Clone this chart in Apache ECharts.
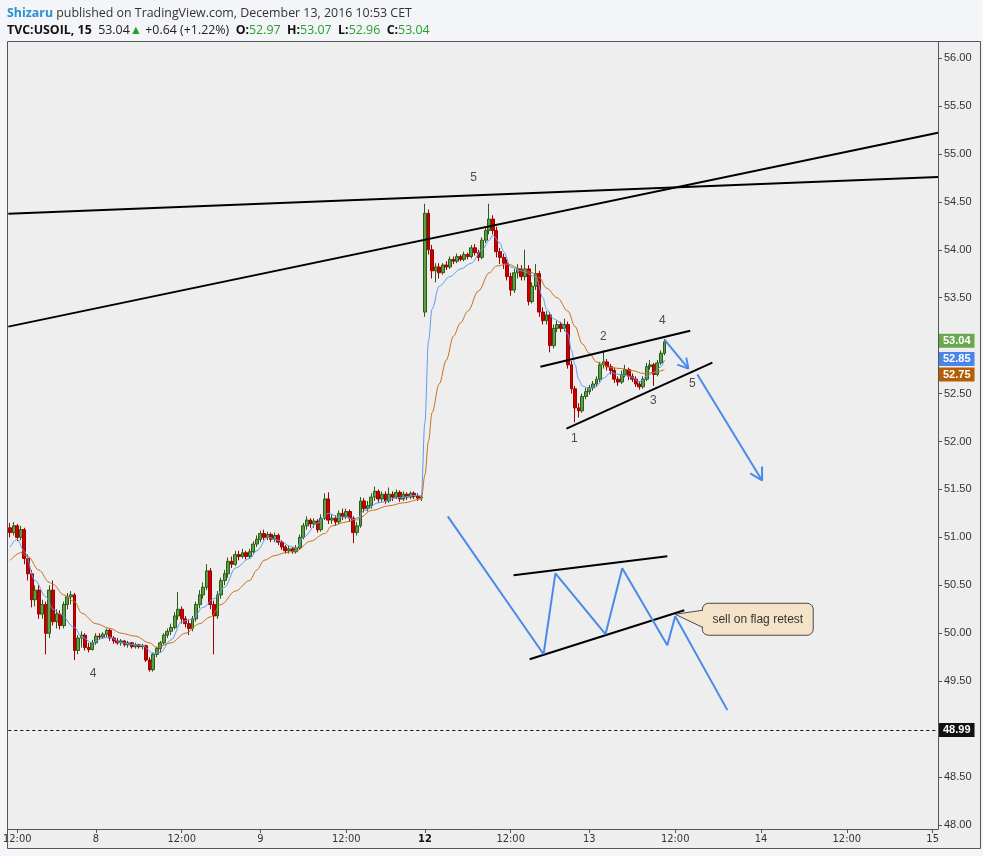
<!DOCTYPE html>
<html>
<head>
<meta charset="utf-8">
<title>TVC:USOIL, 15</title>
<script src="https://cdn.jsdelivr.net/npm/echarts@6/dist/echarts.min.js"></script>
<style>
  html, body { margin: 0; padding: 0; background: #f3f5f8; }
  #kinfo { width: 983px; height: 856px; }
</style>
</head>
<body>
<div id="kinfo"></div>
<script>
// 30 min candles: [open, close, low, high]
const dec7 = [
  [51.10, 51.05, 51.00, 51.15], [51.05, 51.12, 51.02, 51.16], [51.12, 51.00, 50.96, 51.14], [51.00, 51.08, 50.97, 51.12],
  [51.08, 50.78, 50.72, 51.10], [50.78, 50.62, 50.55, 50.82], [50.62, 50.35, 50.27, 50.66], [50.35, 50.45, 50.28, 50.50],
  [50.45, 50.20, 50.15, 50.50], [50.20, 50.30, 50.15, 50.35], [50.30, 50.00, 49.78, 50.33], [50.00, 50.45, 49.95, 50.50],
  [50.45, 50.12, 50.08, 50.55], [50.12, 50.20, 50.05, 50.25], [50.20, 50.08, 50.04, 50.24], [50.08, 50.30, 50.05, 50.33],
  [50.30, 50.38, 50.25, 50.42], [50.38, 50.40, 50.30, 50.44], [50.40, 49.82, 49.72, 50.42], [49.82, 49.95, 49.78, 49.98],
  [49.95, 49.98, 49.85, 50.02], [49.98, 49.85, 49.82, 50.00], [49.85, 49.83, 49.80, 49.90], [49.83, 49.90, 49.82, 49.93]
];
const dec8 = [
  [49.90, 49.97, 49.88, 50.00], [49.97, 49.96, 49.93, 50.00], [49.96, 49.99, 49.94, 50.01], [49.99, 50.03, 49.96, 50.05],
  [50.03, 49.95, 49.92, 50.05], [49.95, 49.92, 49.89, 49.97], [49.92, 49.90, 49.88, 49.95], [49.90, 49.92, 49.87, 49.94],
  [49.92, 49.88, 49.86, 49.93], [49.88, 49.90, 49.85, 49.92], [49.90, 49.86, 49.84, 49.91], [49.86, 49.88, 49.84, 49.90],
  [49.88, 49.86, 49.84, 49.89], [49.86, 49.87, 49.83, 49.89], [49.87, 49.72, 49.70, 49.88], [49.72, 49.62, 49.60, 49.75],
  [49.62, 49.78, 49.60, 49.80], [49.78, 49.84, 49.75, 49.86], [49.84, 49.90, 49.80, 49.92], [49.90, 49.98, 49.88, 50.00],
  [49.98, 50.02, 49.95, 50.05], [50.02, 50.06, 49.98, 50.10], [50.06, 50.18, 50.04, 50.22], [50.18, 50.25, 50.14, 50.43],
  [50.25, 50.15, 50.10, 50.28], [50.15, 50.10, 50.06, 50.18], [50.10, 50.05, 49.98, 50.14], [50.05, 50.15, 50.02, 50.18],
  [50.15, 50.30, 50.12, 50.33], [50.30, 50.40, 50.26, 50.45], [50.40, 50.48, 50.36, 50.53], [50.48, 50.65, 50.45, 50.72],
  [50.65, 50.30, 50.25, 50.68], [50.30, 50.18, 49.78, 50.34], [50.18, 50.40, 50.15, 50.44], [50.40, 50.55, 50.36, 50.58],
  [50.55, 50.62, 50.50, 50.66], [50.62, 50.75, 50.58, 50.79], [50.75, 50.72, 50.68, 50.80], [50.72, 50.82, 50.70, 50.86],
  [50.82, 50.80, 50.76, 50.86], [50.80, 50.84, 50.78, 50.88], [50.84, 50.80, 50.77, 50.86], [50.80, 50.85, 50.78, 50.88],
  [50.85, 50.93, 50.83, 50.96], [50.93, 50.98, 50.90, 51.02]
];
const dec9 = [
  [50.98, 51.04, 50.95, 51.07], [51.04, 51.00, 50.97, 51.08], [51.00, 51.03, 50.97, 51.06], [51.03, 50.98, 50.95, 51.05],
  [50.98, 51.02, 50.95, 51.05], [51.02, 50.95, 50.92, 51.04], [50.95, 50.90, 50.87, 50.97], [50.90, 50.86, 50.83, 50.92],
  [50.86, 50.88, 50.83, 50.91], [50.88, 50.85, 50.83, 50.90], [50.85, 50.89, 50.83, 50.92], [50.89, 51.00, 50.87, 51.03],
  [51.00, 51.12, 50.98, 51.15], [51.12, 51.18, 51.08, 51.22], [51.18, 51.14, 51.10, 51.20], [51.14, 51.17, 51.10, 51.20],
  [51.17, 51.08, 51.05, 51.19], [51.08, 51.20, 51.06, 51.24], [51.20, 51.40, 51.18, 51.46], [51.40, 51.18, 51.14, 51.47],
  [51.18, 51.20, 51.14, 51.24], [51.20, 51.16, 51.12, 51.23], [51.16, 51.25, 51.14, 51.28], [51.25, 51.22, 51.18, 51.30],
  [51.22, 51.27, 51.19, 51.30], [51.27, 51.20, 51.16, 51.29], [51.20, 51.05, 50.94, 51.22], [51.05, 51.12, 51.02, 51.16],
  [51.12, 51.38, 51.10, 51.42], [51.38, 51.30, 51.26, 51.41], [51.30, 51.33, 51.27, 51.38], [51.33, 51.42, 51.30, 51.46],
  [51.42, 51.48, 51.38, 51.53], [51.48, 51.40, 51.36, 51.50], [51.40, 51.45, 51.37, 51.48], [51.45, 51.38, 51.35, 51.48],
  [51.38, 51.45, 51.36, 51.52], [51.45, 51.42, 51.38, 51.48], [51.42, 51.47, 51.40, 51.50], [51.47, 51.40, 51.37, 51.49],
  [51.40, 51.45, 51.38, 51.48], [51.45, 51.42, 51.39, 51.47], [51.42, 51.46, 51.40, 51.48], [51.46, 51.43, 51.40, 51.48],
  [51.43, 51.41, 51.38, 51.46], [51.41, 51.42, 51.38, 51.45]
];
const dec12 = [
  [53.35, 54.38, 53.30, 54.48], [54.38, 54.00, 53.95, 54.42], [54.00, 53.78, 53.70, 54.05], [53.78, 53.82, 53.66, 53.86],
  [53.82, 53.76, 53.70, 53.86], [53.76, 53.84, 53.74, 53.86], [53.84, 53.82, 53.79, 53.88], [53.82, 53.90, 53.80, 53.93],
  [53.90, 53.88, 53.85, 53.93], [53.88, 53.93, 53.86, 53.96], [53.93, 53.90, 53.88, 53.95], [53.90, 53.95, 53.88, 53.98],
  [53.95, 53.93, 53.90, 53.97], [53.93, 54.02, 53.91, 54.05], [54.02, 53.97, 53.94, 54.06], [53.97, 53.92, 53.88, 54.00],
  [53.92, 54.10, 53.90, 54.13], [54.10, 54.20, 54.07, 54.24], [54.20, 54.32, 54.16, 54.48], [54.32, 54.20, 54.16, 54.36],
  [54.20, 53.98, 53.92, 54.24], [53.98, 53.92, 53.85, 54.02], [53.92, 53.86, 53.80, 53.96], [53.86, 53.72, 53.68, 53.90],
  [53.72, 53.58, 53.52, 53.76], [53.58, 53.76, 53.55, 53.80], [53.76, 53.80, 53.70, 53.85], [53.80, 53.72, 53.68, 53.84],
  [53.72, 53.80, 53.68, 54.00], [53.80, 53.46, 53.42, 53.84], [53.46, 53.62, 53.44, 53.66], [53.62, 53.75, 53.58, 53.85],
  [53.75, 53.35, 53.30, 53.78], [53.35, 53.26, 53.22, 53.40], [53.26, 53.32, 53.22, 53.36], [53.32, 53.00, 52.93, 53.35],
  [53.00, 53.18, 52.97, 53.22], [53.18, 53.22, 53.14, 53.26], [53.22, 53.18, 53.14, 53.25], [53.18, 53.22, 53.15, 53.28],
  [53.22, 52.80, 52.76, 53.25], [52.80, 52.55, 52.50, 52.84], [52.55, 52.35, 52.20, 52.58], [52.35, 52.32, 52.25, 52.40],
  [52.32, 52.47, 52.30, 52.50], [52.47, 52.52, 52.44, 52.56]
];
const dec13 = [
  [52.52, 52.56, 52.49, 52.59], [52.56, 52.60, 52.53, 52.63], [52.60, 52.65, 52.57, 52.68], [52.65, 52.80, 52.62, 52.83],
  [52.80, 52.83, 52.76, 52.95], [52.83, 52.78, 52.74, 52.86], [52.78, 52.74, 52.70, 52.81], [52.74, 52.65, 52.61, 52.77],
  [52.65, 52.62, 52.58, 52.68], [52.62, 52.70, 52.60, 52.74], [52.70, 52.75, 52.67, 52.80], [52.75, 52.68, 52.64, 52.77],
  [52.68, 52.65, 52.62, 52.71], [52.65, 52.60, 52.57, 52.68], [52.60, 52.57, 52.54, 52.63], [52.57, 52.65, 52.55, 52.68],
  [52.65, 52.78, 52.63, 52.82], [52.78, 52.80, 52.75, 52.85], [52.80, 52.70, 52.58, 52.82], [52.70, 52.82, 52.68, 52.85],
  [52.82, 52.92, 52.80, 52.95], [52.92, 53.04, 52.90, 53.07]
];

// moving averages: [bar index, value]
const blueMA = [
  [0, 50.90], [2, 50.98], [4, 50.85], [7, 50.55], [10, 50.38], [12, 50.25], [14, 50.20], [18, 50.06], [20, 49.96],
  [23, 49.90], [26, 49.95], [28, 49.96], [31, 49.90], [35, 49.88], [37, 49.87], [40, 49.79], [42, 49.80], [45, 49.93],
  [48, 50.12], [51, 50.15], [54, 50.27], [57, 50.36], [60, 50.48], [63, 50.68], [67, 50.78], [69, 50.86], [72, 51.00],
  [75, 50.97], [79, 50.90], [80, 50.885], [82, 51.00], [86, 51.15], [89, 51.25], [92, 51.21], [94, 51.21], [97, 51.18],
  [99, 51.28], [103, 51.36], [108, 51.41], [114, 51.44], [115, 51.43], [116, 52.20], [117, 53.05], [118, 53.38],
  [120, 53.62], [123, 53.72], [126, 53.80], [129, 53.86], [132, 54.00], [134, 54.10], [135, 54.15], [137, 54.07],
  [138, 53.98], [140, 53.82], [143, 53.78], [147, 53.72], [149, 53.50], [150, 53.38], [152, 53.28], [154, 53.24],
  [156, 53.12], [157, 52.95], [158, 52.80], [159, 52.65], [160, 52.58], [162, 52.55], [164, 52.58], [166, 52.66],
  [168, 52.72], [170, 52.70], [172, 52.69], [174, 52.67], [176, 52.62], [178, 52.68], [180, 52.72], [182, 52.78], [183, 52.85]
];
const orangeMA = [
  [0, 50.76], [3, 50.84], [5, 50.80], [8, 50.66], [11, 50.53], [12, 50.51], [15, 50.40], [18, 50.33], [20, 50.21],
  [24, 50.10], [28, 50.05], [31, 50.00], [35, 49.97], [39, 49.90], [41, 49.85], [45, 49.90], [49, 50.00], [53, 50.10],
  [56, 50.17], [59, 50.30], [63, 50.44], [67, 50.55], [69, 50.66], [71, 50.76], [74, 50.81], [77, 50.84], [80, 50.86],
  [84, 50.96], [88, 51.04], [90, 51.12], [94, 51.16], [98, 51.21], [101, 51.28], [106, 51.33], [110, 51.36], [115, 51.40],
  [116, 51.65], [117, 52.00], [118, 52.30], [120, 52.60], [122, 52.85], [124, 53.10], [126, 53.24], [128, 53.36],
  [131, 53.57], [134, 53.76], [136, 53.83], [139, 53.85], [143, 53.80], [146, 53.76], [148, 53.71], [150, 53.60],
  [153, 53.50], [156, 53.36], [158, 53.20], [160, 53.02], [162, 52.92], [164, 52.83], [168, 52.77], [171, 52.76],
  [174, 52.74], [177, 52.71], [180, 52.72], [183, 52.75]
];

// drawings (bar index, price)
const blackLines = [
  [[-0.5, 54.375], [259.5, 54.76]],
  [[-0.5, 53.198], [259.5, 55.22]],
  [[148.3, 52.78], [190.2, 53.156]],
  [[155.6, 52.135], [196.4, 52.823]],
  [[140.8, 50.604], [183.8, 50.802]],
  [[145.3, 49.729], [188.55, 50.24]]
];
const blueLines = [
  [[122.4, 51.219], [149.2, 49.781], [152.5, 50.625], [166.5, 49.99], [171.2, 50.677], [183.8, 49.875], [186.0, 50.177], [200.6, 49.198]],
  [[183.0, 53.0625], [189.7, 52.76]],
  [[186.6, 52.802], [189.7, 52.76], [189.1, 52.875]],
  [[192.2, 52.698], [210.3, 51.594]],
  [[207.0, 51.667], [210.3, 51.594], [210.3, 51.74]]
];
const waveX = [129.6, 165.9, 182.4, 179.9, 157.8, 190.8, 23.2];
const waveY = [54.75, 53.094, 53.26, 52.427, 52.031, 52.604, 49.583];
const waveText = ['5', '2', '4', '3', '1', '5', '4'];

const calloutBox = [193.6, 50.3125, 224.6, 49.979];
const calloutTip = [186.0, 50.198];
const calloutBase = [50.24, 50.06];
const calloutText = 'sell on flag retest';

// axis ticks
const tickIdx = [2, 24, 48, 70, 94, 116, 140, 162, 186, 210, 234, 258];
const tickText = ['12:00', '8', '12:00', '9', '12:00', '12', '12:00', '13', '12:00', '14', '12:00', '15'];
const priceTicks = [48, 48.5, 49, 49.5, 50, 50.5, 51, 51.5, 52, 52.5, 53, 53.5, 54, 54.5, 55, 55.5, 56];
// labels hidden behind the price boxes are left out
const priceLabels = [48, 48.5, 49.5, 50, 50.5, 51, 51.5, 52, 52.5, 53.5, 54, 54.5, 55, 55.5, 56];

// right-axis price boxes
const levelValues = [53.04, 52.85, 52.75, 48.99];
const levelColors = ['#6aa84f', '#4a86e8', '#b45f06', '#111111'];
const levelShift = [-1, -1, 5, 0];

const candleRows = [].concat(dec7, dec8, dec9, dec12, dec13);
const candleData = candleRows.map((r, i) => [i, r[0], r[1], r[2], r[3]]);

const narrow = "'Liberation Sans Narrow', 'DejaVu Sans Condensed', sans-serif";
const plain = "'Liberation Sans', Arial, sans-serif";
const head = "'Open Sans', sans-serif";

const lineSeries = (pts, color) => ({
  type: 'line', data: pts, symbol: 'none', silent: true, z: 5,
  lineStyle: { color: color, width: 2 }
});

const myChart = echarts.init(document.getElementById('kinfo'));

const option = {
  animation: false,
  backgroundColor: '#f3f5f8',
  title: [
    {
      left: 7, top: 7, padding: 0,
      text: '{u|Shizaru} {t|published on TradingView.com, December 13, 2016 10:53 CET}',
      textStyle: {
        fontFamily: head, fontSize: 12.4, fontWeight: 'normal',
        rich: {
          u: { color: '#2a8fd4', fontWeight: 'bold', fontSize: 12.4, fontFamily: head },
          t: { color: '#333', fontWeight: 'normal', fontSize: 12.4, fontFamily: head }
        }
      }
    },
    {
      left: 7, top: 24, padding: 0,
      text: '{b|TVC:USOIL, 15}  {t|53.04}{g|▲} {t|+0.64 (+1.22%)}  {b|O:}{g|52.97}  {b|H:}{g|53.07}  {b|L:}{g|52.96}  {b|C:}{g|53.04}',
      textStyle: {
        fontFamily: head, fontSize: 12.4, fontWeight: 'normal',
        rich: {
          b: { color: '#111', fontWeight: 'bold', fontSize: 12.4, fontFamily: head },
          t: { color: '#222', fontWeight: 'normal', fontSize: 12.4, fontFamily: head },
          g: { color: '#28a028', fontWeight: 'normal', fontSize: 12.4, fontFamily: head }
        }
      }
    }
  ],
  graphic: [
    {
      type: 'rect', z: -1, silent: true,
      shape: { x: 7, y: 41, width: 974, height: 808 },
      style: { fill: '#eeeeee' }
    },
    {
      type: 'rect', z: 100, silent: true,
      shape: { x: 7.5, y: 41.5, width: 973, height: 807 },
      style: { fill: null, stroke: '#555', lineWidth: 1 }
    }
  ],
  grid: {
    left: 8, right: 45, top: 42, bottom: 27,
    show: true, backgroundColor: '#eeeeee', borderWidth: 0
  },
  xAxis: {
    type: 'value', min: -0.5, max: 259.5,
    axisLine: { show: true, onZero: false, lineStyle: { color: '#555' } },
    axisTick: { show: true, length: 4, customValues: tickIdx, lineStyle: { color: '#555' } },
    axisLabel: {
      customValues: tickIdx, margin: 5, fontSize: 11, color: '#333', fontFamily: narrow,
      formatter: (v) => {
        const k = tickIdx.indexOf(Math.round(v));
        if (k < 0) return '';
        return tickText[k] === '12' ? '{b|12}' : tickText[k];
      },
      rich: { b: { fontWeight: 'bold', fontSize: 11, color: '#111', fontFamily: narrow } }
    },
    splitLine: { show: false }
  },
  yAxis: {
    type: 'value', position: 'right', min: 47.958, max: 56.167,
    axisLine: { show: true, onZero: false, lineStyle: { color: '#555' } },
    axisTick: { show: true, length: 4, customValues: priceTicks, lineStyle: { color: '#555' } },
    axisLabel: {
      customValues: priceLabels, margin: 6, fontSize: 11, color: '#333', fontFamily: plain,
      formatter: (v) => v.toFixed(2)
    },
    splitLine: { show: false }
  },
  series: [
    {
      name: 'USOIL', type: 'candlestick', data: candleData,
      encode: { x: 0, y: [1, 2, 3, 4] },
      barWidth: 3.4, z: 3,
      itemStyle: {
        color: '#5f9e45', color0: '#cc0000',
        borderColor: '#2a5c18', borderColor0: '#9c0000', borderWidth: 1
      },
      markLine: {
        symbol: 'none', silent: true,
        data: levelValues.map((v, k) => ({
          yAxis: v,
          lineStyle: k === 3 ? { type: [3, 3], color: '#111', width: 1 } : { color: 'rgba(0,0,0,0)', width: 0 },
          label: {
            show: true, position: 'end', distance: 1, offset: [0, levelShift[k]],
            formatter: () => v.toFixed(2),
            color: '#fff', backgroundColor: levelColors[k],
            fontSize: 11, fontWeight: 'bold', fontFamily: plain,
            padding: [2, 4, 1, 4]
          }
        }))
      }
    },
    {
      name: 'fast', type: 'line', data: blueMA, symbol: 'none', silent: true, z: 4,
      smooth: 0.35, smoothMonotone: 'x',
      lineStyle: { color: '#5b9cf0', width: 1 }
    },
    {
      name: 'slow', type: 'line', data: orangeMA, symbol: 'none', silent: true, z: 4,
      smooth: 0.35, smoothMonotone: 'x',
      lineStyle: { color: '#c7711c', width: 1 }
    },
    ...blackLines.map(p => lineSeries(p, '#000')),
    ...blueLines.map(p => lineSeries(p, '#4a8ae8')),
    {
      type: 'scatter', silent: true, z: 6, symbolSize: 1,
      itemStyle: { color: 'rgba(0,0,0,0)' },
      data: waveX.map((x, k) => [x, waveY[k], waveText[k]]),
      label: {
        show: true, position: 'inside', formatter: (p) => p.data[2],
        color: '#222', fontSize: 12, fontFamily: plain
      }
    },
    {
      type: 'custom', silent: true, z: 7,
      data: [[calloutBox[0], calloutBox[1]]],
      encode: { x: 0, y: 1 },
      renderItem: (params, api) => {
        const tl = api.coord([calloutBox[0], calloutBox[1]]);
        const br = api.coord([calloutBox[2], calloutBox[3]]);
        const tip = api.coord(calloutTip);
        const b1 = api.coord([calloutBox[0], calloutBase[0]]);
        const b2 = api.coord([calloutBox[0], calloutBase[1]]);
        return {
          type: 'group',
          children: [
            { type: 'rect', shape: { x: tl[0], y: tl[1], width: br[0] - tl[0], height: br[1] - tl[1], r: 6 },
              style: { fill: '#f4e3c8', stroke: '#4a4a4a', lineWidth: 1 } },
            { type: 'polygon', shape: { points: [[b1[0] + 1.5, b1[1]], tip, [b2[0] + 1.5, b2[1]]] },
              style: { fill: '#f4e3c8' } },
            { type: 'polyline', shape: { points: [[b1[0] + 0.5, b1[1]], tip, [b2[0] + 0.5, b2[1]]] },
              style: { stroke: '#4a4a4a', fill: null, lineWidth: 1 } },
            { type: 'text', x: (tl[0] + br[0]) / 2, y: (tl[1] + br[1]) / 2,
              style: { text: calloutText, align: 'center', verticalAlign: 'middle', fill: '#333',
                       font: '12px "Liberation Sans", Arial, sans-serif' } }
          ]
        };
      }
    }
  ]
};

myChart.setOption(option);
</script>
</body>
</html>
